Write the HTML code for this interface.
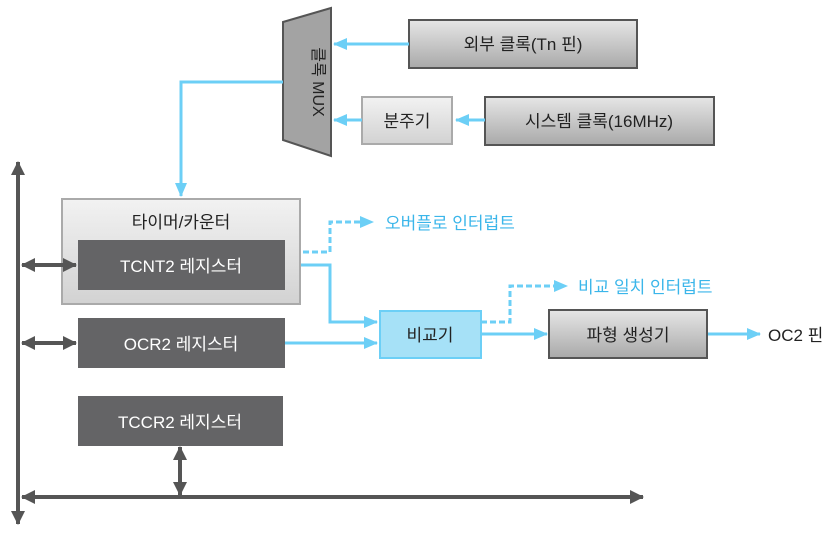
<!DOCTYPE html>
<html><head><meta charset="utf-8"><style>
body{margin:0;background:#fff;}
svg text{font-family:"Liberation Sans","Noto Sans CJK KR",sans-serif;}
</style></head><body>
<svg width="837" height="537" viewBox="0 0 837 537" xmlns="http://www.w3.org/2000/svg">
<defs>
<linearGradient id="g1" x1="0" y1="0" x2="0" y2="1"><stop offset="0" stop-color="#e6e6e6"/><stop offset="1" stop-color="#a9a9a9"/></linearGradient>
<linearGradient id="g2" x1="0" y1="0" x2="0" y2="1"><stop offset="0" stop-color="#f2f2f2"/><stop offset="1" stop-color="#d2d2d2"/></linearGradient>
<marker id="ab" markerWidth="10" markerHeight="8" refX="9" refY="4" orient="auto" markerUnits="userSpaceOnUse"><path d="M0,0 L10,4 L0,8 Z" fill="#6ccff6"/></marker>
<marker id="ab2" markerWidth="14" markerHeight="12" refX="13" refY="6" orient="auto" markerUnits="userSpaceOnUse"><path d="M0,0 L14,6 L0,12 Z" fill="#6ccff6"/></marker>
<marker id="ad" markerWidth="14" markerHeight="14" refX="13" refY="7" orient="auto-start-reverse" markerUnits="userSpaceOnUse"><path d="M0,0 L14,7 L0,14 Z" fill="#555"/></marker>
</defs>
<!-- MUX -->
<polygon points="283,22 331,8 331,156 283,140" fill="#a3a3a3" stroke="#555" stroke-width="2"/>
<text transform="translate(313,82) rotate(90)" font-size="16" fill="#222" text-anchor="middle">클록 MUX</text>
<!-- boxes top -->
<rect x="409" y="20" width="228" height="48" fill="url(#g1)" stroke="#555" stroke-width="2"/>
<text x="523" y="50" font-size="17" text-anchor="middle" fill="#222">외부 클록(Tn 핀)</text>
<rect x="362" y="97" width="90" height="47" fill="url(#g2)" stroke="#aaa" stroke-width="2"/>
<text x="407" y="127" font-size="17" text-anchor="middle" fill="#222">분주기</text>
<rect x="485" y="97" width="229" height="48" fill="url(#g1)" stroke="#555" stroke-width="2"/>
<text x="599" y="127" font-size="17" text-anchor="middle" fill="#222">시스템 클록(16MHz)</text>
<g stroke="#6ccff6" stroke-width="3" fill="none">
<line x1="409" y1="44" x2="334" y2="44" marker-end="url(#ab2)"/>
<line x1="362" y1="120" x2="334" y2="120" marker-end="url(#ab2)"/>
<line x1="485" y1="120" x2="456" y2="120" marker-end="url(#ab2)"/>
<polyline points="283,82 181,82 181,196" marker-end="url(#ab2)"/>
<polyline points="285,265 330,265 330,322 377,322" marker-end="url(#ab2)"/>
<line x1="285" y1="343" x2="377" y2="343" marker-end="url(#ab2)"/>
<line x1="481" y1="334" x2="547" y2="334" marker-end="url(#ab2)"/>
<line x1="707" y1="334" x2="760" y2="334" marker-end="url(#ab2)"/>
</g>
<g stroke="#6ccff6" stroke-width="3" fill="none" stroke-dasharray="6,3">
<polyline points="285,252 330,252 330,222 362,222"/>
<polyline points="481,322 510,322 510,286 556,286"/>
</g>
<path d="M360,216 L374,222 L360,228 Z" fill="#6ccff6"/>
<path d="M554,280 L568,286 L554,292 Z" fill="#6ccff6"/>
<text x="385" y="229" font-size="17" fill="#3bb6ea">오버플로 인터럽트</text>
<text x="578" y="293" font-size="17" fill="#3bb6ea">비교 일치 인터럽트</text>
<!-- timer -->
<rect x="62" y="199" width="238" height="105" fill="url(#g2)" stroke="#aaa" stroke-width="2"/>
<text x="181" y="228" font-size="17" text-anchor="middle" fill="#222">타이머/카운터</text>
<rect x="78" y="240" width="207" height="50" fill="#646466"/>
<text x="181" y="272" font-size="17" text-anchor="middle" fill="#fff">TCNT2 레지스터</text>
<rect x="78" y="318" width="207" height="50" fill="#646466"/>
<text x="181" y="350" font-size="17" text-anchor="middle" fill="#fff">OCR2 레지스터</text>
<rect x="78" y="396" width="205" height="50" fill="#646466"/>
<text x="180" y="428" font-size="17" text-anchor="middle" fill="#fff">TCCR2 레지스터</text>
<rect x="380" y="311" width="101" height="47" fill="#a6e1f7" stroke="#6ccff6" stroke-width="2"/>
<text x="430" y="341" font-size="17" text-anchor="middle" fill="#222">비교기</text>
<rect x="549" y="310" width="158" height="48" fill="url(#g1)" stroke="#555" stroke-width="2"/>
<text x="628" y="341" font-size="17" text-anchor="middle" fill="#222">파형 생성기</text>
<text x="768" y="341" font-size="17" fill="#222">OC2 핀</text>
<!-- bus -->
<g stroke="#555" stroke-width="4" fill="none">
<line x1="18" y1="162" x2="18" y2="524" marker-start="url(#ad)" marker-end="url(#ad)"/>
<line x1="22" y1="497" x2="643" y2="497" marker-start="url(#ad)" marker-end="url(#ad)"/>
<line x1="22" y1="265" x2="76" y2="265" marker-start="url(#ad)" marker-end="url(#ad)"/>
<line x1="22" y1="343" x2="76" y2="343" marker-start="url(#ad)" marker-end="url(#ad)"/>
<line x1="180" y1="447" x2="180" y2="495" marker-start="url(#ad)" marker-end="url(#ad)"/>
</g>
</svg>
</body></html>
